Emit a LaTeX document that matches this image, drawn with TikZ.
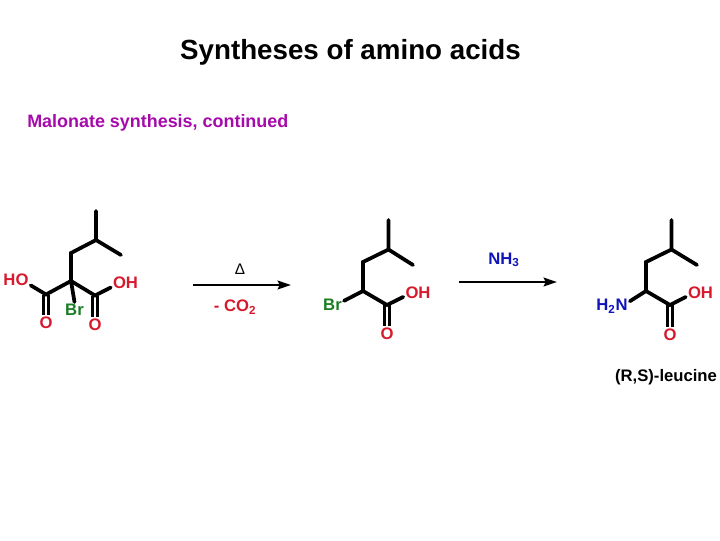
\documentclass[tikz,border=0pt]{standalone}
\usepackage{fontspec}
\setmainfont{Liberation Sans}
\usetikzlibrary{arrows.meta}
\definecolor{oxred}{RGB}{215,25,45}
\definecolor{brgreen}{RGB}{25,125,35}
\definecolor{nblue}{RGB}{15,20,185}
\definecolor{subpurple}{RGB}{165,10,170}
\tikzset{
  bond/.style={line width=2.8pt,line cap=round},
  dblbond/.style={line width=1.8pt},
  rxnarrow/.style={line width=1.8pt,-{Stealth[length=10pt,width=6.5pt,inset=1.5pt]}},
  atomlabel/.style={font=\bfseries\fontsize{12.5}{14}\selectfont,inner sep=1.5pt},
  oxy/.style={atomlabel,text=oxred},
  brom/.style={atomlabel,text=brgreen},
  nitro/.style={atomlabel,text=nblue}
}

\begin{document}
\begin{tikzpicture}[x=0.75pt,y=-0.75pt]
\useasboundingbox (0,0) rectangle (720,540);
\node (title) at (350.5,52) {\bfseries\fontsize{20.8}{26}\selectfont Syntheses of amino acids};
\node[anchor=west,text=subpurple,inner sep=0pt] (subtitle) at (27,123) {\bfseries\fontsize{13.45}{15}\selectfont Malonate synthesis, continued};

% bromomalonic acid
\coordinate (atop) at (96,211);
\coordinate (abr) at (96,240);
\coordinate (aend) at (121,255);
\coordinate (ach) at (71,253);
\coordinate (ac) at (71,281);
\coordinate (acl) at (46,294.5);
\coordinate (acr) at (95,295.5);
\node[oxy] (aho) at (16,280) {HO};
\node[oxy] (aoh) at (125.5,283) {OH};
\node[brom] (abrom) at (74.5,310) {Br};
\node[oxy] (aol) at (46,323) {O};
\node[oxy] (aor) at (95,325) {O};
\draw[bond] (atop) -- (abr) -- (aend);
\draw[bond] (abr) -- (ach) -- (ac);
\draw[bond] (aho.340) -- (acl) -- (ac) -- (acr) -- (aoh.197);
\draw[bond] (ac) -- (abrom.north);
\draw[dblbond] ([xshift=-1.9pt]acl) -- ([xshift=-1.9pt]aol.north);
\draw[dblbond] ([xshift=1.9pt]acl) -- ([xshift=1.9pt]aol.north);
\draw[dblbond] ([xshift=-1.9pt]acr) -- ([xshift=-1.9pt]aor.north);
\draw[dblbond] ([xshift=1.9pt]acr) -- ([xshift=1.9pt]aor.north);

% first arrow
\coordinate (sa) at (193,285);
\coordinate (ea) at (291,285);
\draw[rxnarrow] (sa) -- (ea);
\node (heat) at (240,269) {\fontsize{11.5}{12}\selectfont Δ};
\node[oxy] (co) at (235,307) {- CO\textsubscript{2}};

% bromo acid
\coordinate (btop) at (388.5,220);
\coordinate (bbr) at (388.5,249.5);
\coordinate (bend) at (413,265);
\coordinate (bch) at (363,262);
\coordinate (bc) at (363,291);
\coordinate (bcr) at (387,305);
\node[brom] (bbrom) at (332.5,305) {Br};
\node[oxy] (boh) at (418,293) {OH};
\node[oxy] (bo) at (387,334) {O};
\draw[bond] (btop) -- (bbr) -- (bend);
\draw[bond] (bbr) -- (bch) -- (bc) -- (bcr) -- (boh.195);
\draw[bond] (bc) -- (bbrom.20);
\draw[dblbond] ([xshift=-1.9pt]bcr) -- ([xshift=-1.9pt]bo.north);
\draw[dblbond] ([xshift=1.9pt]bcr) -- ([xshift=1.9pt]bo.north);

% second arrow
\coordinate (sb) at (459,282);
\coordinate (eb) at (557,282);
\draw[rxnarrow] (sb) -- (eb);
\node[nitro] (nh) at (504,260) {NH\textsubscript{3}};

% leucine
\coordinate (ctop) at (671.5,220);
\coordinate (cbr) at (671.5,249.5);
\coordinate (cend) at (697,265);
\coordinate (cch) at (646,262);
\coordinate (cc) at (646,291);
\coordinate (ccr) at (670,305);
\node[nitro] (cn) at (612,306) {H\textsubscript{2}N};
\node[oxy] (coh) at (700.5,293) {OH};
\node[oxy] (co2) at (670,335) {O};
\draw[bond] (ctop) -- (cbr) -- (cend);
\draw[bond] (cbr) -- (cch) -- (cc) -- (ccr) -- (coh.195);
\draw[bond] (cc) -- (cn.15);
\draw[dblbond] ([xshift=-1.9pt]ccr) -- ([xshift=-1.9pt]co2.north);
\draw[dblbond] ([xshift=1.9pt]ccr) -- ([xshift=1.9pt]co2.north);
\node[atomlabel] (leu) at (666,377) {(R,S)-leucine};
\end{tikzpicture}
\end{document}
